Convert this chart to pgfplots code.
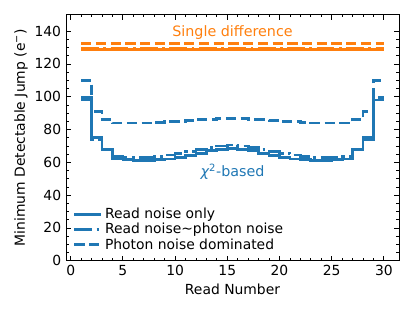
\documentclass[border=0pt]{standalone}
\usepackage{fontspec}
\setmainfont{DejaVu Sans}
\usepackage{pgfplots}
\pgfplotsset{compat=1.18}
\definecolor{mblue}{HTML}{1F77B4}
\definecolor{morange}{HTML}{FF7F0E}
\begin{document}
\begin{tikzpicture}
\useasboundingbox (0pt,0pt) rectangle (298.8pt,223.92pt);
\begin{axis}[
  at={(47.52pt,36.2pt)}, anchor=south west,
  scale only axis, width=239.76pt, height=177.12pt,
  xmin=-0.45, xmax=31.45, ymin=0, ymax=150,
  xtick={0,5,...,30}, ytick={0,20,...,140},
  minor x tick num=4, minor y tick num=3,
  tick align=inside, xtick pos=both, ytick pos=both,
  major tick length=3.5pt, minor tick length=2pt,
  every tick/.style={black, line width=0.6pt},
  axis line style={line width=0.6pt},
  /pgf/number format/assume math mode=true,
  tick label style={font=\fontsize{10}{12}\selectfont},
  label style={font=\fontsize{10}{12}\selectfont},
  xlabel={Read Number},
  ylabel={Minimum Detectable Jump (e\textsuperscript{−})},
  xlabel style={yshift=1pt},
  ylabel style={yshift=-2pt},
  legend style={draw=none, fill=none, at={(0.008,0.015)}, anchor=south west,
    font=\fontsize{10}{12}\selectfont, row sep=-2.2pt},
  legend cell align=left,
  legend image code/.code={\draw[#1] (0pt,0pt) -- (19pt,0pt);},
]
\addplot[const plot, mblue, line width=2pt] coordinates {
(1,98) (2,75) (3,68) (4,62) (5,61.5) (6,61) (7,61) (8,61.5) (9,62) (10,63)
(11,64) (12,65.5) (13,67) (14,68) (15,68.5) (16,68) (17,67) (18,65.5) (19,64) (20,63)
(21,62) (22,61.5) (23,61) (24,61) (25,61.5) (26,62) (27,68) (28,75) (29,98) (30,98)};
\addlegendentry{Read noise only}
\addplot[const plot, mblue, line width=2pt, dash pattern=on 12.8pt off 3.2pt on 2pt off 3.2pt] coordinates {
(1,99.5) (2,74) (3,67.5) (4,63.5) (5,63) (6,63) (7,63) (8,63.5) (9,64.5) (10,65.5)
(11,66.5) (12,68) (13,69) (14,70) (15,70.5) (16,70) (17,69) (18,68) (19,66.5) (20,65.5)
(21,64.5) (22,63.5) (23,63) (24,63) (25,63) (26,63.5) (27,67.5) (28,74) (29,99.5) (30,99.5)};
\addlegendentry{Read noise\textasciitilde photon noise}
\addplot[const plot, mblue, line width=2pt, dash pattern=on 7.4pt off 3.2pt] coordinates {
(1,110) (2,91) (3,86) (4,84) (5,84) (6,84) (7,84) (8,84.5) (9,85) (10,85)
(11,85.5) (12,86) (13,86) (14,86.5) (15,86.5) (16,86.5) (17,86) (18,86) (19,85.5) (20,85)
(21,85) (22,84.5) (23,84) (24,84) (25,84) (26,84) (27,86) (28,91) (29,110) (30,110)};
\addlegendentry{Photon noise dominated}
\addplot[morange, line width=2pt, forget plot] coordinates {(1,129) (30,129)};
\addplot[morange, line width=2pt, forget plot, dash pattern=on 12.8pt off 3.2pt on 2pt off 3.2pt] coordinates {(1,129.3) (30,129.3)};
\addplot[morange, line width=2pt, forget plot, dash pattern=on 7.4pt off 3.2pt] coordinates {(1,132.5) (30,132.5)};
\node[morange, font=\fontsize{10.3}{12}\selectfont] at (axis cs:15.5,139) {Single difference};
\node[mblue, font=\fontsize{10.3}{12}\selectfont] at (axis cs:15.5,54) {{\itshape χ}\textsuperscript{2}-based};
\end{axis}
\end{tikzpicture}
\end{document}
